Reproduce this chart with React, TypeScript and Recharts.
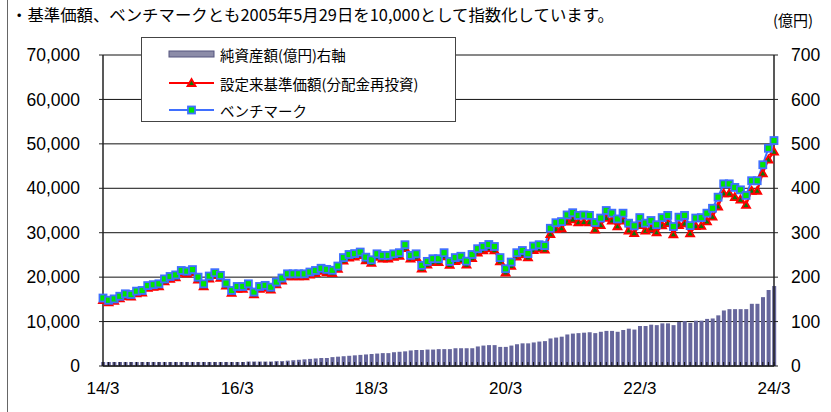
import React from "react";
import {
  ComposedChart,
  Bar,
  Line,
  XAxis,
  YAxis,
  CartesianGrid,
} from "recharts";

// 2014/3 .. 2024/3, monthly
const START_YEAR = 2014;
const START_MONTH = 3;
const MONTH_COUNT = 121;
const months: string[] = [];
for (let k = 0; k < MONTH_COUNT; k++) {
  const m = START_MONTH - 1 + k;
  const y = START_YEAR + Math.floor(m / 12);
  months.push(`${y}/${(m % 12) + 1}`);
}

const tickLabels = ["14/3", "16/3", "18/3", "20/3", "22/3", "24/3"];
const tickIndexes = [0, 24, 48, 72, 96, 120];

// ベンチマーク
const benchmark = [
  15300, 14800, 15100, 15700, 16250, 16100, 16850, 17000, 18100, 18300,
  18500, 19600, 20150, 20500, 21500, 21350, 21700, 20000, 18500, 20250,
  21000, 20400, 18650, 17000, 17900, 17900, 18500, 16650, 17900, 18150,
  17750, 18900, 19800, 20750, 20750, 20750, 20750, 21150, 21500, 22000,
  21750, 21550, 22500, 24400, 25100, 25300, 25650, 24500, 23900, 25250,
  24900, 24900, 25250, 25500, 27300, 24900, 25250, 22650, 23550, 24150,
  24150, 25500, 23550, 24400, 24700, 23600, 25100, 26400, 26900, 27350,
  26900, 24400, 21900, 23400, 25500, 26000, 25300, 27000, 27300, 27100,
  31000, 32250, 32500, 34000, 34500, 33900, 34000, 33900, 32300, 33300,
  35000, 34400, 33100, 34400, 32150, 31550, 33400, 32150, 32750, 31800,
  33400, 33900, 31400, 33500, 33900, 31600, 33300, 33400, 34400, 35500,
  38000, 41000, 41000, 40200, 39650, 38400, 41700, 41700, 45300, 49000,
  50750,
];

// 設定来基準価額(分配金再投資)
const fund = [
  14850, 14300, 14650, 15250, 15750, 15600, 16350, 16500, 17600, 17800,
  17950, 19050, 19600, 19950, 20950, 20800, 21150, 19450, 17950, 19700,
  20450, 19850, 18100, 16450, 17350, 17350, 17950, 16100, 17350, 17600,
  17200, 18350, 19250, 20200, 20200, 20200, 20200, 20550, 20900, 21400,
  21100, 20900, 21850, 23700, 24400, 24600, 24950, 23800, 23200, 24550,
  24200, 24200, 24550, 24800, 26550, 24150, 24500, 21900, 22800, 23400,
  23400, 24700, 22750, 23600, 23900, 22800, 24300, 25550, 26050, 26500,
  26050, 23550, 21050, 22550, 24650, 25150, 24450, 26100, 26400, 26200,
  29700, 30800, 31000, 32500, 33000, 32350, 32450, 32350, 30700, 31700,
  33350, 32750, 31450, 32750, 30500, 29900, 31700, 30450, 31050, 30100,
  31650, 32150, 29650, 31700, 32100, 29850, 31500, 31550, 32550, 33600,
  35900, 38850, 38850, 38000, 37450, 36250, 39450, 39450, 43350, 46450,
  48250,
];

// 純資産額(億円)
const netAssets = [
  9, 9, 9, 9, 9, 9, 9, 9, 9, 9,
  9, 9, 9, 9, 9, 9, 9, 9, 9, 9,
  9, 9, 9, 9, 9, 9, 10, 10, 10, 10,
  10, 11, 11, 12, 13, 14, 15, 16, 17, 18,
  18, 20, 21, 22, 23, 24, 25, 26, 27, 28,
  29, 29, 31, 32, 33, 35, 36, 36, 37, 37,
  38, 38, 38, 40, 40, 40, 40, 44, 46, 47,
  47, 43, 43, 46, 49, 51, 51, 53, 55, 56,
  62, 64, 66, 71, 73, 74, 75, 76, 74, 77,
  79, 79, 77, 81, 84, 82, 90, 90, 93, 92,
  96, 96, 92, 99, 101, 97, 102, 102, 106, 107,
  114, 125, 128, 128, 128, 128, 140, 140, 155, 171,
  180,
];

const data = months.map((m, i) => ({
  idx: i,
  month: m,
  bench: benchmark[i],
  fund: fund[i],
  assets: netAssets[i],
}));

const allTicks = months.map((_, i) => i);

const JP = '"Noto Sans CJK JP", "Noto Sans", sans-serif';
const NUM = '"Liberation Sans", Arial, sans-serif';

function XTick(props: any) {
  const { x, y, payload } = props;
  const pos = tickIndexes.indexOf(payload.value);
  return (
    <g>
      <line x1={x} x2={x} y1={y} y2={y - 4} stroke="#111" strokeWidth={1} />
      {pos >= 0 && (
        <text x={x} y={y + 28} textAnchor="middle" fontSize={17} fontFamily={NUM} fill="#000">
          {tickLabels[pos]}
        </text>
      )}
    </g>
  );
}

function Triangle(props: any) {
  const { cx, cy, index } = props;
  if (cx == null || cy == null) return <g key={`t${index}`} />;
  return (
    <polygon
      key={`t${index}`}
      points={`${cx},${cy - 4} ${cx + 4},${cy + 3} ${cx - 4},${cy + 3}`}
      fill="#0a7a0a"
      stroke="#ff0000"
      strokeWidth={1.8}
    />
  );
}

function Square(props: any) {
  const { cx, cy, index } = props;
  if (cx == null || cy == null) return <g key={`s${index}`} />;
  return (
    <rect
      key={`s${index}`}
      x={cx - 3.5}
      y={cy - 3.5}
      width={7}
      height={7}
      fill="#00e600"
      stroke="#3f6fff"
      strokeWidth={1.8}
    />
  );
}

function LegendBox() {
  const row = (y: number, icon: React.ReactNode, label: string) => (
    <div style={{ position: "absolute", left: 0, top: y - 10, height: 20, display: "flex", alignItems: "center" }}>
      <svg width={80} height={20} style={{ display: "block" }}>
        {icon}
      </svg>
      <span style={{ fontFamily: JP, fontSize: 14.5, color: "#000", whiteSpace: "nowrap", marginLeft: -2 }}>{label}</span>
    </div>
  );
  return (
    <div
      style={{
        position: "absolute",
        left: 141,
        top: 37,
        width: 315,
        height: 85,
        background: "#fff",
        border: "1px solid #444",
        boxSizing: "border-box",
      }}
    >
      {row(
        16,
        <rect x={27} y={7} width={45} height={6} fill="#8c8ca8" stroke="#55557f" strokeWidth={1} />,
        "純資産額(億円)右軸"
      )}
      {row(
        45,
        <g>
          <line x1={27} x2={72} y1={10} y2={10} stroke="#ff0000" strokeWidth={2} />
          <polygon points="49.5,6 53.5,13 45.5,13" fill="#0a7a0a" stroke="#ff0000" strokeWidth={1.8} />
        </g>,
        "設定来基準価額(分配金再投資)"
      )}
      {row(
        72,
        <g>
          <line x1={27} x2={72} y1={10} y2={10} stroke="#3f6fff" strokeWidth={2} />
          <rect x={46} y={6.5} width={7} height={7} fill="#00e600" stroke="#3f6fff" strokeWidth={1.8} />
        </g>,
        "ベンチマーク"
      )}
    </div>
  );
}

export default function App() {
  return (
    <div style={{ position: "absolute", left: 0, top: 0, width: 831, height: 412, background: "#fff", overflow: "hidden" }}>
      <div style={{ position: "absolute", left: 7, top: 0, width: 1, height: 412, background: "#666" }} />
      <div
        style={{
          position: "absolute",
          left: 11,
          top: 3,
          fontFamily: JP,
          fontSize: 16.4,
          color: "#000",
          whiteSpace: "nowrap",
          lineHeight: "22px",
        }}
      >
        ・基準価額、ベンチマークとも2005年5月29日を10,000として指数化しています。
      </div>
      <div
        style={{
          position: "absolute",
          left: 773,
          top: 10,
          fontFamily: JP,
          fontSize: 15,
          color: "#000",
          whiteSpace: "nowrap",
          lineHeight: "20px",
        }}
      >
        (億円)
      </div>
      <ComposedChart
        width={831}
        height={412}
        data={data}
        margin={{ top: 55, right: 0, bottom: 0, left: 0 }}
      >
        <CartesianGrid horizontal vertical={false} stroke="#111" yAxisId="l" />
        <XAxis
          type="number"
          dataKey="idx"
          domain={[0, 120]}
          ticks={allTicks}
          interval={0}
          height={46}
          tickLine={false}
          tickSize={0}
          tickMargin={0}
          axisLine={{ stroke: "#222", strokeWidth: 1.5 }}
          tick={<XTick />}
        />
        <YAxis
          yAxisId="l"
          orientation="left"
          width={103}
          domain={[0, 70000]}
          ticks={[0, 10000, 20000, 30000, 40000, 50000, 60000, 70000]}
          tickFormatter={(v: number) => v.toLocaleString("en-US")}
          tick={{ fill: "#000", fontSize: 17.5, fontFamily: NUM }}
          tickSize={4}
          tickMargin={19}
          tickLine={{ stroke: "#222" }}
          axisLine={{ stroke: "#222", strokeWidth: 1.5 }}
        />
        <YAxis
          yAxisId="r"
          orientation="right"
          width={57}
          domain={[0, 700]}
          ticks={[0, 100, 200, 300, 400, 500, 600, 700]}
          tick={{ fill: "#000", fontSize: 17.5, fontFamily: NUM, textAnchor: "start" }}
          tickSize={4}
          tickMargin={13}
          tickLine={{ stroke: "#222" }}
          axisLine={{ stroke: "#222", strokeWidth: 1.5 }}
        />
        <Bar
          yAxisId="r"
          dataKey="assets"
          barSize={4}
          fill="#66669c"
          isAnimationActive={false}
        />
        <Line
          yAxisId="l"
          dataKey="fund"
          stroke="#ff0000"
          strokeWidth={2}
          dot={Triangle}
          activeDot={false}
          isAnimationActive={false}
        />
        <Line
          yAxisId="l"
          dataKey="bench"
          stroke="#3f6fff"
          strokeWidth={2}
          dot={Square}
          activeDot={false}
          isAnimationActive={false}
        />
      </ComposedChart>
      <LegendBox />
    </div>
  );
}
